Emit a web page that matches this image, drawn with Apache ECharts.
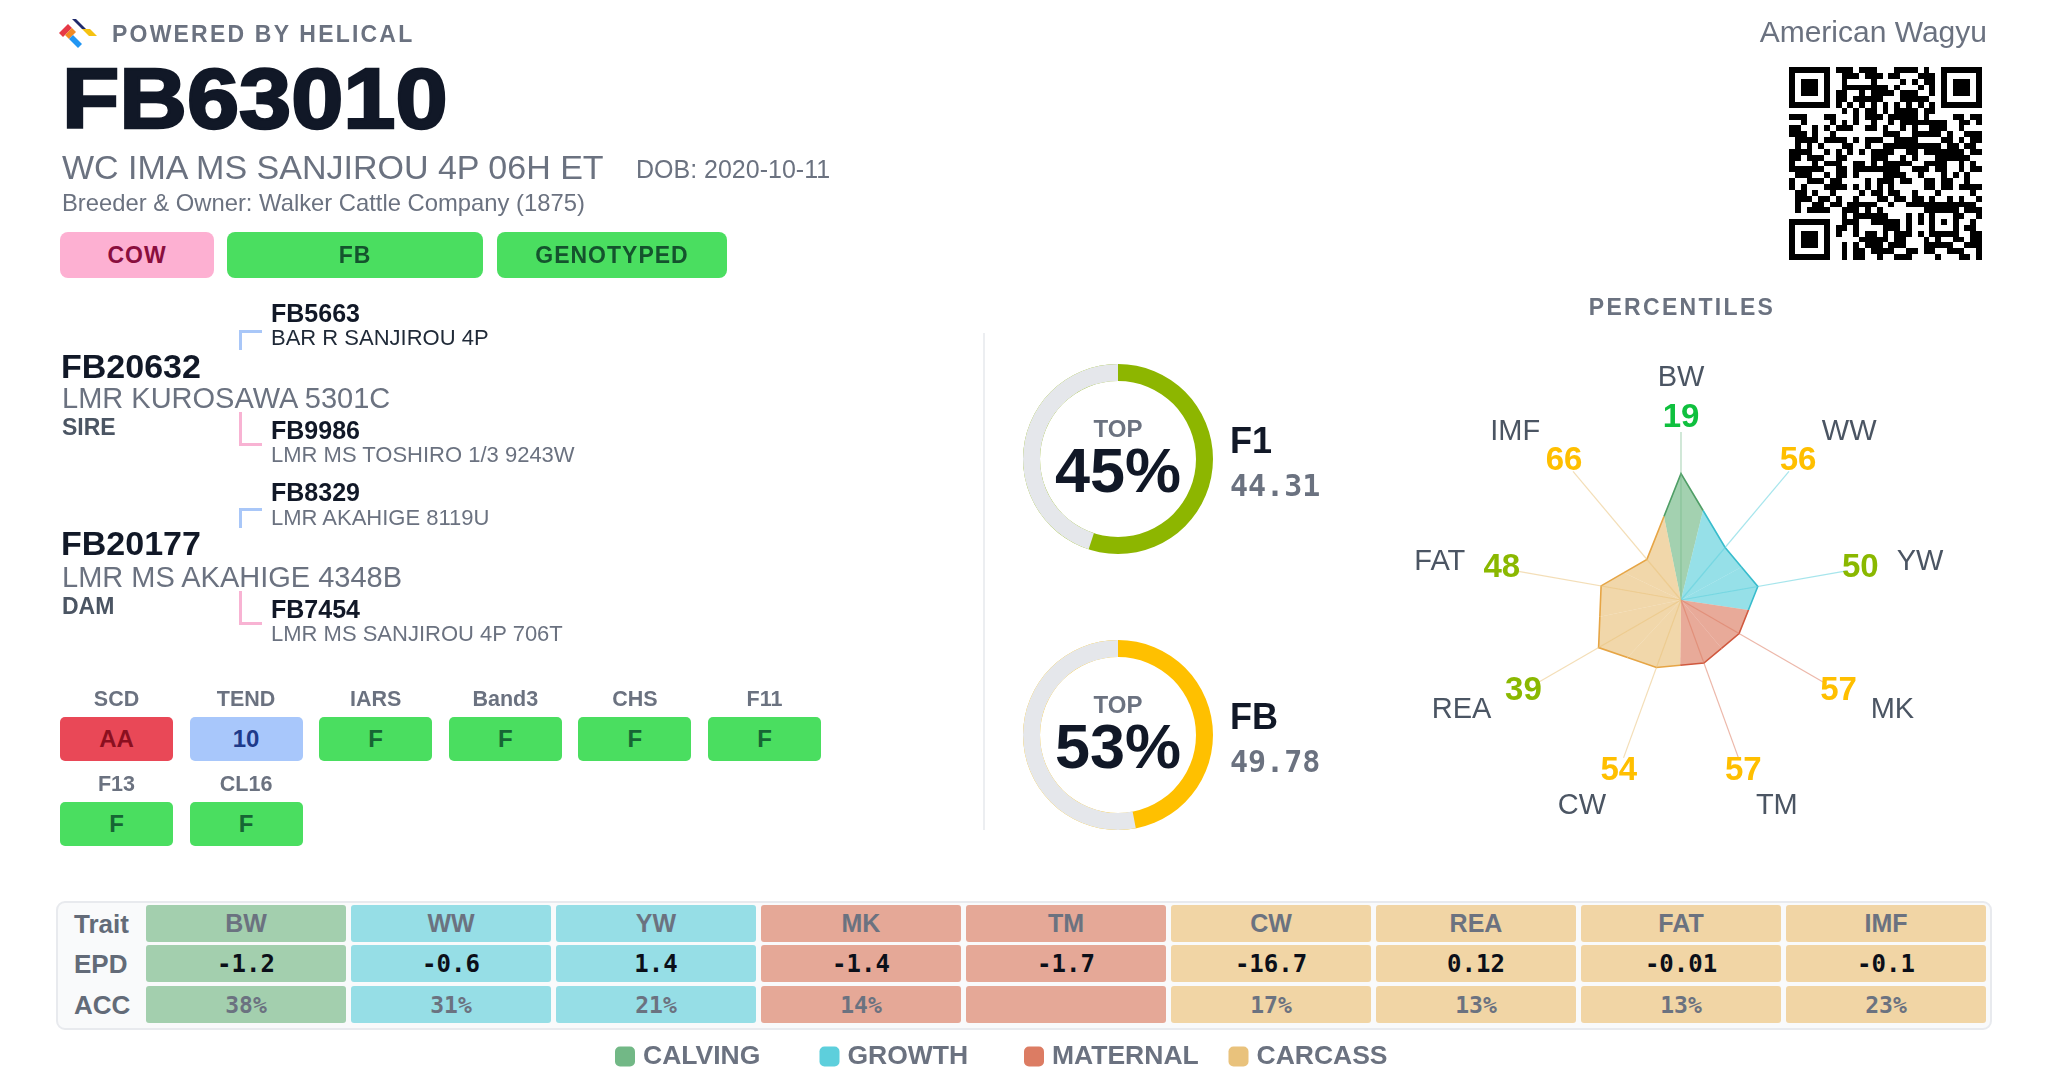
<!DOCTYPE html>
<html><head><meta charset="utf-8">
<script src="https://cdn.jsdelivr.net/npm/echarts@6/dist/echarts.min.js"></script>
<style>
html,body{margin:0;padding:0;background:#fff;}
body{width:2048px;height:1075px;position:relative;overflow:hidden;font-family:"Liberation Sans",Arial,Helvetica,sans-serif;}
#chart{position:absolute;left:0;top:0;width:2048px;height:1075px;z-index:0;}
.t{position:absolute;white-space:nowrap;z-index:2;}
.box{position:absolute;z-index:2;display:flex;align-items:center;justify-content:center;font-weight:bold;box-sizing:border-box;white-space:nowrap;}
</style></head><body>
<div id="chart"></div>
<script>
// ---------------- data ----------------
const animalId = 'FB63010';
const animalName = 'WC IMA MS SANJIROU 4P 06H ET';
const dob = 'DOB: 2020-10-11';
const breeder = 'Breeder & Owner: Walker Cattle Company (1875)';
const association = 'American Wagyu';
const badges = ['COW', 'FB', 'GENOTYPED'];
const pedIds = ['FB5663', 'FB20632', 'FB9986', 'FB8329', 'FB20177', 'FB7454'];
const pedNames = ['BAR R SANJIROU 4P', 'LMR KUROSAWA 5301C', 'LMR MS TOSHIRO 1/3 9243W', 'LMR AKAHIGE 8119U', 'LMR MS AKAHIGE 4348B', 'LMR MS SANJIROU 4P 706T'];
const pedRoles = ['SIRE', 'DAM'];
const geneTests = ['SCD', 'TEND', 'IARS', 'Band3', 'CHS', 'F11', 'F13', 'CL16'];
const geneResults = ['AA', '10', 'F', 'F', 'F', 'F', 'F', 'F'];
const indexNames = ['F1', 'FB'];
const indexScores = ['44.31', '49.78'];
const indexTop = [45, 53];
const traits = ['BW', 'WW', 'YW', 'MK', 'TM', 'CW', 'REA', 'FAT', 'IMF'];
const traitGroups = ['CALVING', 'GROWTH', 'GROWTH', 'MATERNAL', 'MATERNAL', 'CARCASS', 'CARCASS', 'CARCASS', 'CARCASS'];
const groups = ['CALVING', 'GROWTH', 'MATERNAL', 'CARCASS'];
const percentiles = [19, 56, 50, 57, 57, 54, 39, 48, 66];
const epd = ['-1.2', '-0.6', '1.4', '-1.4', '-1.7', '-16.7', '0.12', '-0.01', '-0.1'];
const acc = ['38%', '31%', '21%', '14%', '', '17%', '13%', '13%', '23%'];
const rowLabels = ['Trait', 'EPD', 'ACC'];

// ---------------- styles ----------------
const SANS = '"Liberation Sans", Arial, Helvetica, sans-serif';
const MONO = '"DejaVu Sans Mono", "Liberation Mono", monospace';
const DARK = '#111827', GRAY = '#6b7280', GRAY2 = '#4b5563', GRAY3 = '#636b78';
const groupColor = {CALVING: '#72b886', GROWTH: '#5dcfdc', MATERNAL: '#dc7c63', CARCASS: '#e9c27c'};
const groupEdge = {CALVING: '#4f9e66', GROWTH: '#38bccc', MATERNAL: '#d0583e', CARCASS: '#e6a545'};
const cellBg = {CALVING: '#a3cfae', GROWTH: '#96dee6', MATERNAL: '#e5a897', CARCASS: '#f1d5a5'};
const indexColor = ['#8db600', '#ffc000'];
const badgeStyle = {COW: ['#fdb0d2', '#8a0e3e'], FB: ['#4ade60', '#14532d'], GENOTYPED: ['#4ade60', '#14532d']};
const geneStyle = {AA: ['#e94857', '#8b0f1f'], '10': ['#a8c7fb', '#1e3a8a'], F: ['#4ade60', '#166534']};
function pctColor(v) { return v <= 25 ? '#0fc03e' : v <= 50 ? '#8ab800' : v <= 75 ? '#ffbf00' : '#ef4444'; }

// ---------------- html helpers ----------------
function txt(s, x, cy, fs, o) {
  o = o || {};
  const d = document.createElement('div');
  d.className = 't';
  d.textContent = s;
  d.style.fontSize = fs + 'px';
  d.style.lineHeight = fs + 'px';
  d.style.top = (cy - 0.49 * fs) + 'px';
  if (o.align === 'center') { d.style.left = x + 'px'; d.style.transform = 'translateX(-50%)'; }
  else if (o.align === 'right') { d.style.right = (2048 - x) + 'px'; }
  else d.style.left = x + 'px';
  d.style.color = o.color || DARK;
  if (o.bold) d.style.fontWeight = 'bold';
  if (o.family) d.style.fontFamily = o.family;
  if (o.ls) d.style.letterSpacing = o.ls + 'px';
  document.body.appendChild(d);
  return d;
}
function box(s, x, y, w, h, bg, color, fs, o) {
  o = o || {};
  const d = document.createElement('div');
  d.className = 'box';
  Object.assign(d.style, {left: x + 'px', top: y + 'px', width: w + 'px', height: h + 'px', background: bg, color: color,
    fontSize: fs + 'px', borderRadius: (o.r || 6) + 'px'});
  if (o.family) d.style.fontFamily = o.family;
  if (o.normal) d.style.fontWeight = 'normal';
  if (o.ls) d.style.letterSpacing = o.ls + 'px';
  d.textContent = s;
  document.body.appendChild(d);
  return d;
}
function rect(x, y, w, h, css) {
  const d = document.createElement('div');
  Object.assign(d.style, {position: 'absolute', left: x + 'px', top: y + 'px', width: w + 'px', height: h + 'px', zIndex: 2, boxSizing: 'border-box'}, css);
  document.body.appendChild(d);
  return d;
}

// ---------------- header ----------------
const logo = rect(59, 18, 44, 30, {});
logo.innerHTML = '<svg width="44" height="30" viewBox="0 0 44 30">' +
  '<polygon points="13,1 17,1 27,11 23,11" fill="#1f2a6b"/>' +
  '<polygon points="0,15 9,6 13,10 4,19" fill="#e63946"/>' +
  '<polygon points="23,11 31,11 38,18 30,18" fill="#f5c211"/>' +
  '<polygon points="13,10 17,14 10,21 6,17" fill="#f08a24"/>' +
  '<polygon points="10,21 14,17 23,26 19,30" fill="#2196f3"/>' +
  '</svg>';
txt('POWERED BY HELICAL', 112, 34, 23, {bold: true, color: GRAY, ls: 2.2});
const title = txt(animalId, 62, 97, 86, {bold: true, color: DARK});
Object.assign(title.style, {transform: 'scaleX(1.09)', transformOrigin: '0 50%', webkitTextStroke: '2.6px ' + DARK});
txt(animalName, 62, 167, 34, {color: GRAY});
txt(dob, 636, 169, 25, {color: GRAY});
txt(breeder, 62, 203, 23.8, {color: GRAY});
const badgeX = [60, 227, 497], badgeW = [154, 256, 230];
badges.forEach((b, i) => box(b, badgeX[i], 232, badgeW[i], 46, badgeStyle[b][0], badgeStyle[b][1], 23, {r: 8, ls: 1}));
txt(association, 1987, 32, 30, {align: 'right', color: GRAY});

// QR-like code (decorative)
const qr = document.createElement('canvas');
qr.width = 193; qr.height = 193;
Object.assign(qr.style, {position: 'absolute', left: '1789px', top: '67px', zIndex: 2});
document.body.appendChild(qr);
(function () {
  const S = 193, c = qr.getContext('2d'), N = 33, m = S / N;
  c.fillStyle = '#fff'; c.fillRect(0, 0, S, S);
  c.fillStyle = '#000';
  const cell = (x, y) => c.fillRect(Math.round(x * m), Math.round(y * m), Math.round((x + 1) * m) - Math.round(x * m), Math.round((y + 1) * m) - Math.round(y * m));
  const inFinder = (x, y) => (x < 8 && y < 8) || (x >= N - 8 && y < 8) || (x < 8 && y >= N - 8);
  const inAlign = (x, y) => x >= 24 && x <= 28 && y >= 24 && y <= 28;
  for (let y = 0; y < N; y++) for (let x = 0; x < N; x++) {
    let dark;
    if (inFinder(x, y)) {
      const fx = x < 8 ? x : x - (N - 7), fy = y < 8 ? y : y - (N - 7);
      if (fx < 0 || fy < 0 || fx > 6 || fy > 6) dark = false;
      else dark = fx === 0 || fx === 6 || fy === 0 || fy === 6 || (fx >= 2 && fx <= 4 && fy >= 2 && fy <= 4);
    } else if (inAlign(x, y)) {
      const ax = x - 24, ay = y - 24;
      dark = ax === 0 || ax === 4 || ay === 0 || ay === 4 || (ax === 2 && ay === 2);
    } else if (y === 6) dark = x % 2 === 0;
    else if (x === 6) dark = y % 2 === 0;
    else {
      let h = (x * 73856093) ^ (y * 19349663) ^ ((x + 3) * (y + 7) * 83492791);
      h = (h ^ (h >>> 13)) * 1274126177;
      dark = ((h >>> 7) & 3) < 2;
    }
    if (dark) cell(x, y);
  }
})();

// ---------------- pedigree ----------------
txt(pedIds[0], 271, 313, 25, {bold: true});
txt(pedNames[0], 271, 338, 22, {color: '#1f2937'});
txt(pedIds[1], 61, 366, 34, {bold: true});
txt(pedNames[1], 62, 398, 29, {color: GRAY});
txt(pedRoles[0], 62, 427, 23, {bold: true, color: GRAY2});
txt(pedIds[2], 271, 430, 25, {bold: true});
txt(pedNames[2], 271, 455, 22, {color: GRAY});
txt(pedIds[3], 271, 492, 25, {bold: true});
txt(pedNames[3], 271, 518, 22, {color: GRAY});
txt(pedIds[4], 61, 543, 34, {bold: true});
txt(pedNames[4], 62, 577, 29, {color: GRAY});
txt(pedRoles[1], 62, 606, 23, {bold: true, color: GRAY2});
txt(pedIds[5], 271, 609, 25, {bold: true});
txt(pedNames[5], 271, 634, 22, {color: GRAY});
const BLUE_B = '#a9c7f8', PINK_B = '#f8b3d3';
rect(239, 330, 23, 20, {borderLeft: '3px solid ' + BLUE_B, borderTop: '3px solid ' + BLUE_B});
rect(239, 412, 23, 34, {borderLeft: '3px solid ' + PINK_B, borderBottom: '3px solid ' + PINK_B});
rect(239, 508, 23, 20, {borderLeft: '3px solid ' + BLUE_B, borderTop: '3px solid ' + BLUE_B});
rect(239, 591, 23, 34, {borderLeft: '3px solid ' + PINK_B, borderBottom: '3px solid ' + PINK_B});

// ---------------- genetic tests ----------------
geneTests.forEach((g, i) => {
  const col = i % 6, row = Math.floor(i / 6);
  const x = 60 + col * 129.6, y = 717 + row * 85;
  txt(g, x + 56.5, y - 17, 21.5, {bold: true, color: GRAY, align: 'center'});
  const st = geneStyle[geneResults[i]];
  box(geneResults[i], x, y, 113, 44, st[0], st[1], 24, {r: 5});
});

// divider
rect(983, 333, 2, 497, {background: '#eceef1'});

// radar title
txt('PERCENTILES', 1682, 307, 23, {bold: true, color: GRAY, ls: 2.3, align: 'center'});

// ---------------- EPD table ----------------
rect(56, 901, 1936, 129, {border: '2px solid #e8eaee', borderRadius: '9px', background: '#f9fafb', zIndex: 1});
const rowTop = [905, 945, 986], rowH = 37;
rowLabels.forEach((r, ri) => txt(r, 74, rowTop[ri] + 18.5, 26, {color: GRAY3, bold: true}));
traits.forEach((t, i) => {
  const x = 146 + i * 205, w = 200, bg = cellBg[traitGroups[i]];
  box(t, x, rowTop[0], w, rowH, bg, GRAY, 25, {r: 3});
  box(String(epd[i]), x, rowTop[1], w, rowH, bg, '#0b0f19', 24, {r: 3, family: MONO});
  box(acc[i], x, rowTop[2], w, rowH, bg, GRAY, 23, {r: 3, family: MONO});
});

// ---------------- echarts: index rings, percentile radar, legend ----------------
const chart = echarts.init(document.getElementById('chart'), null, {renderer: 'canvas', width: 2048, height: 1075});
const ringCY = [459, 735], ringCX = 1118;
const RADAR_C = [1681, 600], RADAR_R = 156;

function radarItem(params, api) {
  const n = traits.length;
  const i = api.value(1), v = api.value(0);
  const j = (i + n - 1) % n, k = (i + 1) % n;
  const P = api.coord([v, i]);
  const Pj = api.coord([percentiles[j], j]);
  const Pk = api.coord([percentiles[k], k]);
  const C = api.coord([100, i]);
  const O = api.coord([0, i]);
  const R = Math.hypot(O[0] - C[0], O[1] - C[1]);
  const ux = (O[0] - C[0]) / R, uy = (O[1] - C[1]) / R;
  const m1 = [(P[0] + Pj[0]) / 2, (P[1] + Pj[1]) / 2];
  const m2 = [(P[0] + Pk[0]) / 2, (P[1] + Pk[1]) / 2];
  const g = traitGroups[i];
  const color = groupColor[g];
  const sc = R / 156;
  const align = ux > 0.2 ? 'left' : ux < -0.2 ? 'right' : 'center';
  const nameR = (align === 'center' ? 222 : 219) * sc;
  return {
    type: 'group',
    children: [
      {type: 'polygon', shape: {points: [C, m1, P, m2]}, style: {fill: color, opacity: 0.65}, z2: 1},
      {type: 'polyline', shape: {points: [m1, P, m2]}, style: {stroke: groupEdge[g], lineWidth: 1.6, fill: null}, z2: 3},
      {type: 'line', shape: {x1: C[0], y1: C[1], x2: C[0] + ux * 168 * sc, y2: C[1] + uy * 168 * sc},
        style: {stroke: color, opacity: 0.55, lineWidth: 1.2}, z2: 4},
      {type: 'text', x: C[0] + ux * 182 * sc, y: C[1] + uy * 182 * sc, z2: 10,
        style: {text: String(v), fill: pctColor(v), font: 'bold 33px ' + SANS, align: 'center', verticalAlign: 'middle'}},
      {type: 'text', x: C[0] + ux * nameR, y: C[1] + uy * nameR, z2: 10,
        style: {text: traits[i], fill: GRAY2, font: '29px ' + SANS, align: align, verticalAlign: 'middle'}}
    ]
  };
}

const graphic = [];
indexNames.forEach((nm, idx) => {
  const cy = ringCY[idx];
  graphic.push(
    {type: 'text', x: ringCX, y: cy - 29, style: {text: 'TOP', fill: GRAY, font: 'bold 24px ' + SANS, align: 'center', verticalAlign: 'middle', textAlign: 'center', textVerticalAlign: 'middle'}},
    {type: 'text', x: ringCX, y: cy + 16, style: {text: indexTop[idx] + '%', fill: DARK, font: 'bold 63px ' + SANS, align: 'center', verticalAlign: 'middle', textAlign: 'center', textVerticalAlign: 'middle'}},
    {type: 'text', x: 1230, y: cy - 16, style: {text: nm, fill: DARK, font: 'bold 36px ' + SANS, align: 'left', verticalAlign: 'middle', textAlign: 'left', textVerticalAlign: 'middle'}},
    {type: 'text', x: 1230, y: cy + 29, style: {text: indexScores[idx], fill: GRAY, font: 'bold 30px ' + MONO, align: 'left', verticalAlign: 'middle', textAlign: 'left', textVerticalAlign: 'middle'}}
  );
});

const hiddenAxis = {show: false, axisLine: {show: false}, axisTick: {show: false}, axisLabel: {show: false}, splitLine: {show: false}, splitArea: {show: false}};

const option = {
  animation: false,
  backgroundColor: 'transparent',
  polar: [
    {center: [ringCX, ringCY[0]], radius: [78, 95]},
    {center: [ringCX, ringCY[1]], radius: [78, 95]},
    {center: RADAR_C, radius: RADAR_R}
  ],
  angleAxis: [
    Object.assign({polarIndex: 0, type: 'value', min: 0, max: 100, startAngle: 90, clockwise: false}, hiddenAxis),
    Object.assign({polarIndex: 1, type: 'value', min: 0, max: 100, startAngle: 90, clockwise: false}, hiddenAxis),
    Object.assign({polarIndex: 2, type: 'category', data: traits, startAngle: 90, clockwise: true, boundaryGap: false}, hiddenAxis)
  ],
  radiusAxis: [
    Object.assign({polarIndex: 0, type: 'category', data: [indexNames[0]]}, hiddenAxis),
    Object.assign({polarIndex: 1, type: 'category', data: [indexNames[1]]}, hiddenAxis),
    Object.assign({polarIndex: 2, type: 'value', min: 0, max: 100, inverse: true}, hiddenAxis)
  ],
  legend: {
    data: groups, left: 615, top: 1043, padding: 0, itemWidth: 20, itemHeight: 20, itemGap: 0, icon: 'roundRect',
    selectedMode: false, formatter: '{a|{name}}',
    textStyle: {rich: {a: {width: 176.5, padding: [0, 0, 0, 3], fontSize: 26.5, fontWeight: 'bold', color: GRAY, fontFamily: SANS, lineHeight: 26}}}
  },
  graphic: graphic,
  series: [
    ...indexNames.map((nm, idx) => ({
      type: 'bar', name: nm, coordinateSystem: 'polar', polarIndex: idx, data: [indexTop[idx]],
      barCategoryGap: '0%', silent: true,
      itemStyle: {color: '#e5e7eb'},
      showBackground: true, backgroundStyle: {color: indexColor[idx]}
    })),
    ...groups.map(g => ({
      type: 'custom', name: g, coordinateSystem: 'polar', polarIndex: 2, silent: true,
      itemStyle: {color: groupColor[g]},
      data: traits.map((t, i) => traitGroups[i] === g ? [percentiles[i], i] : null).filter(d => d),
      renderItem: radarItem
    }))
  ]
};
chart.setOption(option);
</script>
</body></html>
